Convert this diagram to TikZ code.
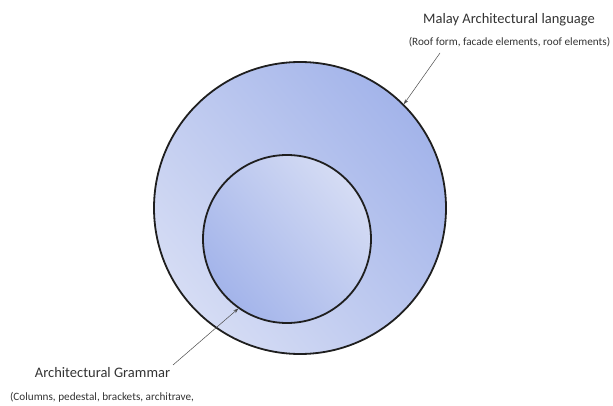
\documentclass[tikz,border=0pt]{standalone}
\usepackage{fontspec}
\setmainfont{Carlito}
\usetikzlibrary{arrows.meta}
\definecolor{bluedark}{HTML}{A3B4EA}
\definecolor{bluelight}{HTML}{D5DCF4}
\definecolor{textgray}{HTML}{333333}
\tikzset{
  ring/.style={draw=black!88, line width=1.8pt},
  pointer/.style={draw=black!70, line width=0.5pt, -{Stealth[length=5pt,width=3.5pt]}},
  heading/.style={text=textgray, font=\fontsize{14.5}{16}\selectfont, inner sep=0pt},
  detail/.style={text=textgray, font=\fontsize{11.2}{13}\selectfont, inner sep=0pt},
}
\begin{document}
\begin{tikzpicture}[x=1pt,y=-1pt]
  \useasboundingbox (0,0) rectangle (613,406);
  % outer circle: the language
  \shade[top color=bluedark, bottom color=bluelight, shading angle=-50]
    (300,208) circle[radius=146];
  \node[ring, circle, minimum size=292pt, inner sep=0pt] (outer) at (300,208) {};
  % inner circle: the grammar
  \shade[top color=bluelight, bottom color=bluedark, shading angle=-50]
    (287,239) circle[radius=84];
  \node[ring, circle, minimum size=168pt, inner sep=0pt] (inner) at (287,239) {};
  % labels
  \node[heading] (langtitle) at (509,20) {Malay Architectural language};
  \node[detail] (langnote) at (509.5,42) {(Roof form, facade elements, roof elements)};
  \node[heading] (gramtitle) at (102.5,373) {Architectural Grammar};
  \node[detail] (gramnote) at (102,397) {(Columns, pedestal, brackets, architrave,};
  % pointers
  \coordinate (langtail) at (440,53);
  \coordinate (gramtail) at (173,365);
  \draw[pointer] (langtail) -- (outer.45);
  \draw[pointer] (gramtail) -- (inner.235);
\end{tikzpicture}
\end{document}
